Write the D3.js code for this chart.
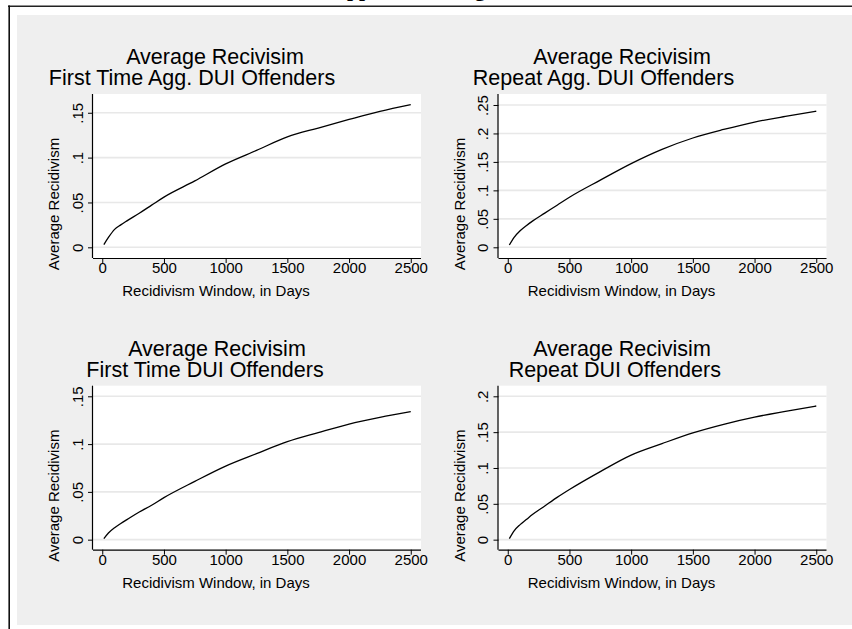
<!DOCTYPE html>
<html>
<head>
<meta charset="utf-8">
<script src="https://cdn.jsdelivr.net/npm/d3@7"></script>
<style>
  html, body { margin: 0; padding: 0; background: #ffffff; }
  svg { display: block; }
</style>
</head>
<body>
<script>
// ---------------- data ----------------
const days = [13, 50, 100, 150, 200, 300, 400, 500, 750, 1000, 1250, 1500, 1750, 2000, 2250, 2500];

const firstTimeAgg = [0.003, 0.011, 0.020, 0.025, 0.0295, 0.038, 0.047, 0.056, 0.074, 0.093, 0.108, 0.123, 0.133, 0.1425, 0.1515, 0.159];
const repeatAgg    = [0.004, 0.017, 0.029, 0.038, 0.046, 0.060, 0.074, 0.088, 0.118, 0.147, 0.172, 0.192, 0.207, 0.220, 0.230, 0.239];
const firstTimeDUI = [0.001, 0.007, 0.0125, 0.017, 0.021, 0.029, 0.036, 0.044, 0.061, 0.077, 0.090, 0.1025, 0.112, 0.121, 0.128, 0.134];
const repeatDUI    = [0.0015, 0.012, 0.021, 0.028, 0.035, 0.047, 0.059, 0.070, 0.095, 0.118, 0.134, 0.149, 0.161, 0.171, 0.179, 0.1865];

const xTicks = [0, 500, 1000, 1500, 2000, 2500];
const yTicksFirstAgg = [0, 0.05, 0.1, 0.15];
const yTicksRepeatAgg = [0, 0.05, 0.1, 0.15, 0.2, 0.25];
const yTicksFirstDUI = [0, 0.05, 0.1, 0.15];
const yTicksRepeatDUI = [0, 0.05, 0.1, 0.15, 0.2];

const titleLine1 = "Average Recivisim";
const subtitles = ["First Time Agg. DUI Offenders", "Repeat Agg. DUI Offenders", "First Time DUI Offenders", "Repeat DUI Offenders"];
const yTitle = "Average Recidivism";
const xTitle = "Recidivism Window, in Days";
const pageHeading = "Supplemental Figure";

// ---------------- layout ----------------
const W = 852, H = 629;
const plotW = 328, plotH = 164;
const xDomain = [-75, 2583];
const FONT = "'Liberation Sans', Arial, Helvetica, sans-serif";

const panels = [
  { series: firstTimeAgg, ticks: yTicksFirstAgg, yDomain: [-0.0119, 0.1709], left: 93,  top: 94,    sub: subtitles[0], l1dx: -42,   l2dx: -65 },
  { series: repeatAgg,    ticks: yTicksRepeatAgg, yDomain: [-0.0188, 0.2693], left: 498.5, top: 94,  sub: subtitles[1], l1dx: -40.5, l2dx: -59 },
  { series: firstTimeDUI, ticks: yTicksFirstDUI, yDomain: [-0.0105, 0.1611], left: 93,  top: 385.7, sub: subtitles[2], l1dx: -40,   l2dx: -52 },
  { series: repeatDUI,    ticks: yTicksRepeatDUI, yDomain: [-0.014, 0.2148], left: 498.5, top: 385.7, sub: subtitles[3], l1dx: -40.5, l2dx: -47.7 }
];

const fmt = v => v === 0 ? "0" : String(+v.toFixed(4)).replace(/^0\./, ".");

const svg = d3.select("body").append("svg")
  .attr("width", W).attr("height", H)
  .attr("viewBox", `0 0 ${W} ${H}`);

svg.append("rect").attr("x", 0).attr("y", 0).attr("width", W).attr("height", H).attr("fill", "#ffffff");

// page heading (mostly above the visible area)
svg.append("text")
  .attr("x", 323).attr("y", -4.5)
  .attr("font-family", "'Liberation Serif', 'Times New Roman', serif")
  .attr("font-weight", "bold")
  .attr("font-size", 21.6)
  .attr("fill", "#000")
  .text(pageHeading);

// page frame lines
svg.append("line").attr("x1", 8).attr("x2", W).attr("y1", 6.3).attr("y2", 6.3)
  .attr("stroke", "#222").attr("stroke-width", 1.6);
svg.append("line").attr("x1", 9.2).attr("x2", 9.2).attr("y1", 5.5).attr("y2", H)
  .attr("stroke", "#111").attr("stroke-width", 1.6);

// graph region background
svg.append("rect").attr("x", 17).attr("y", 15).attr("width", W - 17).attr("height", 610)
  .attr("fill", "#efefef");

panels.forEach(p => {
  const x = d3.scaleLinear().domain(xDomain).range([p.left, p.left + plotW]);
  const y = d3.scaleLinear().domain(p.yDomain).range([p.top + plotH, p.top]);
  const g = svg.append("g");

  // plot region
  g.append("rect").attr("x", p.left).attr("y", p.top).attr("width", plotW).attr("height", plotH)
    .attr("fill", "#ffffff");

  // gridlines
  g.append("g").selectAll("line").data(p.ticks).join("line")
    .attr("x1", p.left).attr("x2", p.left + plotW)
    .attr("y1", d => y(d)).attr("y2", d => y(d))
    .attr("stroke", "#e8e8e8").attr("stroke-width", 1.6);

  // series line
  const pts = days.map((d, i) => [d, p.series[i]]);
  g.append("path").datum(pts)
    .attr("fill", "none").attr("stroke", "#000").attr("stroke-width", 1.3)
    .attr("stroke-linejoin", "round")
    .attr("d", d3.line().x(d => x(d[0])).y(d => y(d[1])).curve(d3.curveMonotoneX));

  // x axis
  const xa = g.append("g").attr("transform", `translate(0,${p.top + plotH})`)
    .call(d3.axisBottom(x).tickValues(xTicks).tickSize(5).tickSizeOuter(0).tickFormat(d3.format("d")));
  xa.select(".domain").attr("stroke", "#000").attr("stroke-width", 1.2)
    .attr("d", `M${p.left},0.5H${p.left + plotW}`);
  xa.selectAll(".tick line").attr("stroke", "#000").attr("stroke-width", 1);
  xa.selectAll(".tick text").attr("y", 15.3).attr("dy", 0)
    .attr("font-family", FONT).attr("font-size", 15).attr("fill", "#000");

  // y axis
  const ya = g.append("g").attr("transform", `translate(${p.left},0)`)
    .call(d3.axisLeft(y).tickValues(p.ticks).tickSize(5).tickSizeOuter(0).tickFormat(fmt));
  ya.select(".domain").attr("stroke", "#000").attr("stroke-width", 1.2)
    .attr("d", `M-0.5,${p.top}V${p.top + plotH}`);
  ya.selectAll(".tick line").attr("stroke", "#000").attr("stroke-width", 1);
  ya.selectAll(".tick text")
    .attr("transform", "rotate(-90)")
    .attr("x", 0).attr("y", -10.5).attr("dy", 0)
    .attr("text-anchor", "middle")
    .attr("font-family", FONT).attr("font-size", 15).attr("fill", "#000");
  ya.attr("font-family", null).attr("font-size", null);
  xa.attr("font-family", null).attr("font-size", null);

  const cx = p.left + plotW / 2;
  const cy = p.top + plotH / 2;

  // y axis title
  g.append("text")
    .attr("transform", `translate(${p.left - 34},${cy + 28}) rotate(-90)`)
    .attr("text-anchor", "middle")
    .attr("font-family", FONT).attr("font-size", 15).attr("fill", "#000")
    .text(yTitle);

  // x axis title
  g.append("text")
    .attr("x", cx - 41).attr("y", p.top + plotH + 38)
    .attr("text-anchor", "middle")
    .attr("font-family", FONT).attr("font-size", 15).attr("fill", "#000")
    .text(xTitle);

  // titles
  g.append("text")
    .attr("x", cx + p.l1dx).attr("y", p.top - 30)
    .attr("text-anchor", "middle")
    .attr("font-family", FONT).attr("font-size", 21.5).attr("fill", "#000")
    .text(titleLine1);
  g.append("text")
    .attr("x", cx + p.l2dx).attr("y", p.top - 9)
    .attr("text-anchor", "middle")
    .attr("font-family", FONT).attr("font-size", 21.5).attr("fill", "#000")
    .text(p.sub);
});
</script>
</body>
</html>
